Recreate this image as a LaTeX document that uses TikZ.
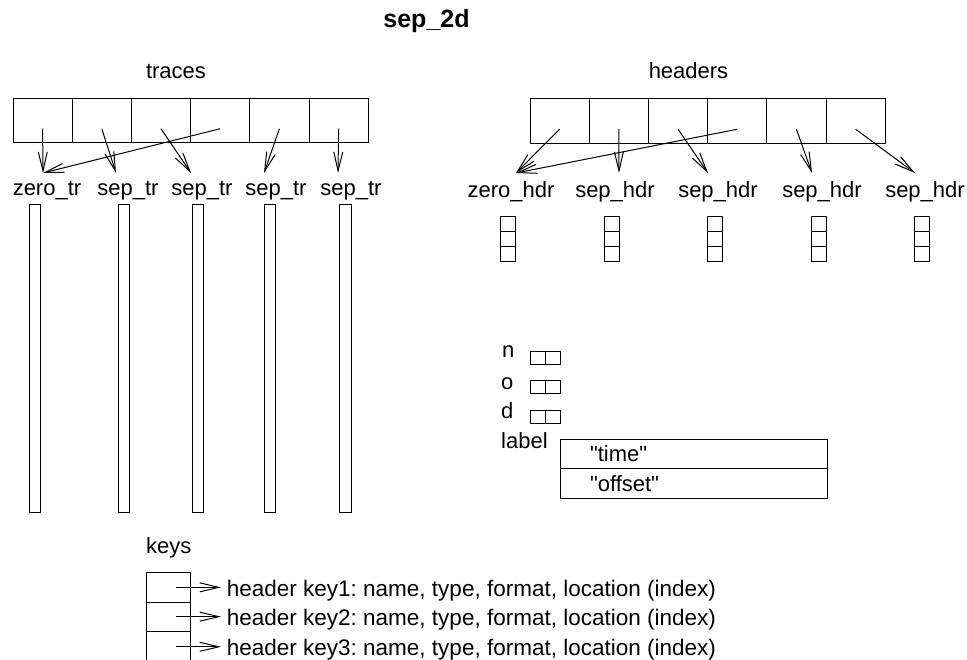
\documentclass[tikz,border=0pt]{standalone}
\usepackage{fontspec}
\setmainfont{Liberation Sans}[Ligatures=TeXOff]
\usepackage{tikz}
\usetikzlibrary{arrows.meta, positioning}
\tikzstyle{slot} = [rectangle, draw=black, line width=1pt, minimum width=59.2pt, minimum height=44.5pt, inner sep=0pt, outer sep=0pt]
\tikzstyle{bar} = [rectangle, draw=black, line width=1pt, minimum width=11.5pt, minimum height=307pt, inner sep=0pt, outer sep=0pt]
\tikzstyle{word} = [rectangle, draw=black, line width=1pt, minimum width=15pt, minimum height=15pt, inner sep=0pt, outer sep=0pt]
\tikzstyle{pair} = [rectangle, draw=black, line width=1pt, minimum width=15pt, minimum height=13pt, inner sep=0pt, outer sep=0pt]
\tikzstyle{entry} = [rectangle, draw=black, line width=1pt, text width=207pt, align=left, inner xsep=30pt, inner ysep=0pt, minimum height=29.5pt, outer sep=0pt, font=\fontsize{22pt}{26pt}\selectfont]
\tikzstyle{keyslot} = [rectangle, draw=black, line width=1pt, minimum width=44.7pt, minimum height=29.3pt, inner sep=0pt, outer sep=0pt]
\tikzstyle{txt} = [inner sep=0pt, font=\fontsize{22pt}{26pt}\selectfont]
\tikzstyle{keytxt} = [inner sep=0pt, anchor=base west, font=\fontsize{22.5pt}{26pt}\selectfont]
\tikzstyle{arrow} = [line width=1pt, -{Straight Barb[length=19pt, width=9pt]}]

\begin{document}
\frenchspacing
\begin{tikzpicture}[x=1pt, y=-1pt]
\useasboundingbox (0,0) rectangle (967,660);

\node (title) [txt, font=\fontsize{25pt}{30pt}\selectfont\bfseries, anchor=base] at (426.5,28) {sep\_2d};

% traces
\node (tlabel) [txt, anchor=base] at (176,79) {traces};
\node (t1) [slot, anchor=north west] at (13,98.5) {};
\node (t2) [slot, right=0pt of t1] {};
\node (t3) [slot, right=0pt of t2] {};
\node (t4) [slot, right=0pt of t3] {};
\node (t5) [slot, right=0pt of t4] {};
\node (t6) [slot, right=0pt of t5] {};

\coordinate (ztip) at (43,173);
\coordinate (stip2) at (116,173);
\coordinate (stip3) at (191,173);
\coordinate (stip4) at (264,173);
\coordinate (stip5) at (338,173);

\draw [arrow] ([yshift=-8pt]t1.center) -- (ztip);
\draw [arrow] ([yshift=-8pt]t2.center) -- (stip2);
\draw [arrow] ([yshift=-8pt]t3.center) -- (stip3);
\draw [arrow] ([yshift=-8pt]t4.center) -- (ztip);
\draw [arrow] ([yshift=-8pt]t5.center) -- (stip4);
\draw [arrow] ([yshift=-8pt]t6.center) -- (stip5);

\node (ztr) [txt, anchor=base] at (47,196) {zero\_tr};
\node (str2) [txt, anchor=base] at (128,196) {sep\_tr};
\node (str3) [txt, anchor=base] at (202,196) {sep\_tr};
\node (str4) [txt, anchor=base] at (276,196) {sep\_tr};
\node (str5) [txt, anchor=base] at (351,196) {sep\_tr};

\node (bar1) [bar, anchor=north] at (35,205) {};
\node (bar2) [bar, anchor=north] at (124,205) {};
\node (bar3) [bar, anchor=north] at (198,205) {};
\node (bar4) [bar, anchor=north] at (270,205) {};
\node (bar5) [bar, anchor=north] at (345.5,205) {};

% headers
\node (hlabel) [txt, anchor=base] at (688.5,79) {headers};
\node (h1) [slot, anchor=north west] at (530,99) {};
\node (h2) [slot, right=0pt of h1] {};
\node (h3) [slot, right=0pt of h2] {};
\node (h4) [slot, right=0pt of h3] {};
\node (h5) [slot, right=0pt of h4] {};
\node (h6) [slot, right=0pt of h5] {};

\coordinate (zhtip) at (516,173);
\coordinate (shtip2) at (619,173);
\coordinate (shtip3) at (708,173);
\coordinate (shtip4) at (812,173);
\coordinate (shtip5) at (915,173);

\draw [arrow] ([yshift=-8pt]h1.center) -- (zhtip);
\draw [arrow] ([yshift=-8pt]h2.center) -- (shtip2);
\draw [arrow] ([yshift=-8pt]h3.center) -- (shtip3);
\draw [arrow] ([yshift=-8pt]h4.center) -- (zhtip);
\draw [arrow] ([yshift=-8pt]h5.center) -- (shtip4);
\draw [arrow] ([yshift=-8pt]h6.center) -- (shtip5);

\node (zhdr) [txt, anchor=base] at (511,198) {zero\_hdr};
\node (shdr2) [txt, anchor=base] at (615,198) {sep\_hdr};
\node (shdr3) [txt, anchor=base] at (718,198) {sep\_hdr};
\node (shdr4) [txt, anchor=base] at (822,198) {sep\_hdr};
\node (shdr5) [txt, anchor=base] at (925,198) {sep\_hdr};

\node (w1a) [word, anchor=north] at (508,217) {};
\node (w1b) [word, below=0pt of w1a] {};
\node (w1c) [word, below=0pt of w1b] {};
\node (w2a) [word, anchor=north] at (612,217) {};
\node (w2b) [word, below=0pt of w2a] {};
\node (w2c) [word, below=0pt of w2b] {};
\node (w3a) [word, anchor=north] at (715,217) {};
\node (w3b) [word, below=0pt of w3a] {};
\node (w3c) [word, below=0pt of w3b] {};
\node (w4a) [word, anchor=north] at (819,217) {};
\node (w4b) [word, below=0pt of w4a] {};
\node (w4c) [word, below=0pt of w4b] {};
\node (w5a) [word, anchor=north] at (922,217) {};
\node (w5b) [word, below=0pt of w5a] {};
\node (w5c) [word, below=0pt of w5b] {};

% axis info
\node (nlab) [txt, anchor=base west] at (502,358) {n};
\node (n1) [pair, anchor=north west] at (530,352) {};
\node (n2) [pair, right=0pt of n1] {};
\node (olab) [txt, anchor=base west] at (501,389) {o};
\node (o1) [pair, anchor=north west] at (530,381) {};
\node (o2) [pair, right=0pt of o1] {};
\node (dlab) [txt, anchor=base west] at (501,418) {d};
\node (d1) [pair, anchor=north west] at (530,410) {};
\node (d2) [pair, right=0pt of d1] {};
\node (llab) [txt, anchor=base west] at (501,448) {label};
\node (time) [entry, anchor=north west] at (560,439) {"time"};
\node (offset) [entry, below=0pt of time] {"offset"};

% keys
\node (klabel) [txt, anchor=base west] at (146,553) {keys};
\node (k1) [keyslot, anchor=north west] at (146,572.7) {};
\node (k2) [keyslot, below=0pt of k1] {};
\node (k3) [keyslot, below=0pt of k2, minimum height=31pt] {};

\coordinate (kend) at (221,0);
\draw [arrow] ([xshift=7.5pt]k1.center) -- (k1 -| kend);
\draw [arrow] ([xshift=7.5pt]k2.center) -- (k2 -| kend);
\draw [arrow] ([xshift=7.5pt]k3.center) -- (k3 -| kend);

\node (key1) [keytxt] at (226.7,596) {header key1: name, type, format, location (index)};
\node (key2) [keytxt] at (226.7,625.5) {header key2: name, type, format, location (index)};
\node (key3) [keytxt] at (226.7,655) {header key3: name, type, format, location (index)};

\end{tikzpicture}
\end{document}
